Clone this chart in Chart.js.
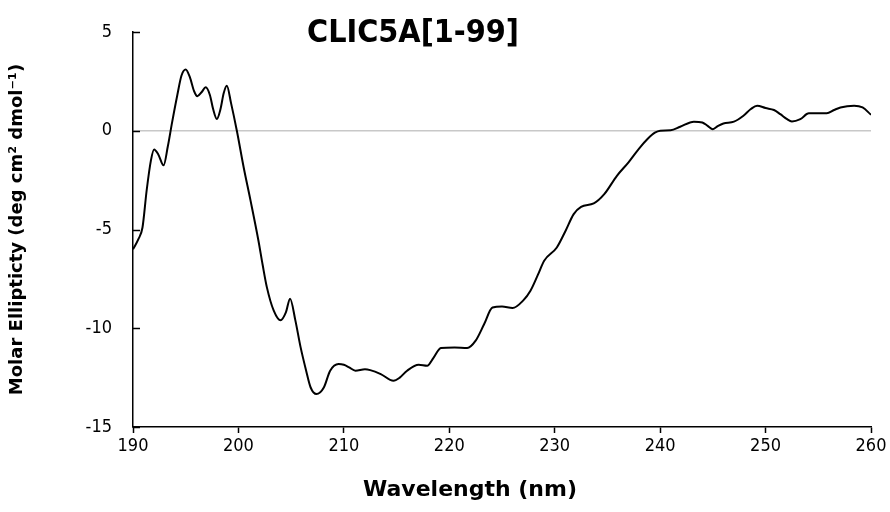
<!DOCTYPE html>
<html>
<head>
<meta charset="utf-8">
<script src="https://cdn.jsdelivr.net/npm/chart.js@4/dist/chart.umd.min.js"></script>
<style>
  html, body { margin: 0; padding: 0; background: #fff; }
  canvas { display: block; }
</style>
</head>
<body>
<canvas id="c" width="890" height="512"></canvas>
<script>
const chartTitle = 'CLIC5A[1-99]';
const xAxisTitle = 'Wavelength (nm)';
const yAxisTitle = 'Molar Ellipticty (deg cm² dmol⁻¹)';
const xTicks = [190, 200, 210, 220, 230, 240, 250, 260];
const yTicks = [-15, -10, -5, 0, 5];

const wavelengths = [
  190.0, 190.5, 190.9, 191.3, 191.7, 192.0, 192.4, 192.9, 193.3, 193.7,
  194.2, 194.6, 195.0, 195.4, 195.8, 196.1, 196.5, 196.9, 197.3, 197.6,
  197.95, 198.3, 198.6, 198.9, 199.3, 199.85, 200.5, 201.15, 201.9, 202.3,
  202.7, 203.35, 204.0, 204.5, 204.9, 205.4, 205.9, 206.4, 206.85, 207.4,
  208.1, 208.7, 209.5, 210.0, 210.5, 211.1, 212.0, 212.5, 213.5, 214.7,
  215.3, 216.0, 217.1, 217.9, 218.5, 219.2, 220.5, 221.7, 222.5, 223.3,
  224.1, 225.0, 226.0, 227.0, 227.7, 228.4, 229.0, 230.2, 231.0, 231.8,
  232.5, 233.7, 234.7, 235.9, 237.0, 238.0, 238.8, 239.5, 240.0, 241.0,
  241.9, 243.2, 244.0, 244.5, 245.0, 245.5, 246.0, 247.0, 247.9, 248.6,
  249.2, 250.0, 250.8, 251.4, 252.0, 252.5, 253.3, 254.1, 255.0, 255.8,
  256.5, 257.1, 258.4, 259.2, 260.0
];
const ellipticity = [
  -6.0, -5.5, -4.9, -3.0, -1.5, -0.95, -1.2, -1.75, -0.8, 0.4,
  1.8, 2.8, 3.1, 2.7, 2.0, 1.75, 1.95, 2.2, 1.8, 1.1,
  0.6, 1.1, 1.9, 2.28, 1.4, 0.0, -1.86, -3.54, -5.57, -6.8,
  -7.93, -9.11, -9.6, -9.2, -8.5, -9.6, -10.97, -12.1, -13.0, -13.33,
  -13.0, -12.15, -11.81, -11.85, -11.98, -12.15, -12.08, -12.12, -12.32, -12.66,
  -12.5, -12.15, -11.85, -11.9, -11.5, -11.0, -10.97, -11.0, -10.63, -9.8,
  -8.95, -8.9, -8.98, -8.6, -8.1, -7.3, -6.58, -5.91, -5.1, -4.22,
  -3.85, -3.68, -3.21, -2.28, -1.6, -0.9, -0.42, -0.1, 0.0, 0.02,
  0.2, 0.46, 0.42, 0.25, 0.08, 0.25, 0.37, 0.46, 0.76, 1.1,
  1.27, 1.15, 1.05, 0.84, 0.6, 0.47, 0.59, 0.88, 0.88, 0.88,
  1.05, 1.18, 1.27, 1.18, 0.81
];

const points = wavelengths.map((w, i) => ({ x: w, y: ellipticity[i] }));

const innerTicksAndTitles = {
  id: 'innerTicksAndTitles',
  afterDraw(chart) {
    const ctx = chart.ctx;
    const ys = chart.scales.y;
    const left = chart.chartArea.left;
    ctx.save();
    ctx.strokeStyle = '#000';
    ctx.lineWidth = 1.5;
    yTicks.forEach(v => {
      const py = Math.round(ys.getPixelForValue(v)) + 0.5;
      ctx.beginPath();
      ctx.moveTo(left, py);
      ctx.lineTo(left + 7, py);
      ctx.stroke();
    });
    ctx.fillStyle = '#000';
    ctx.textAlign = 'center';
    ctx.textBaseline = 'middle';
    ctx.font = 'bold 32px "DejaVu Sans Condensed", "DejaVu Sans"';
    ctx.fillText(chartTitle, 413, 34);
    ctx.font = 'bold 22px "DejaVu Sans"';
    ctx.fillText(xAxisTitle, 470, 490);
    ctx.restore();
  }
};

new Chart(document.getElementById('c'), {
  type: 'line',
  data: {
    datasets: [{
      data: points,
      borderColor: '#000',
      borderWidth: 2,
      pointRadius: 0,
      fill: false,
      tension: 0.4,
      cubicInterpolationMode: 'monotone'
    }]
  },
  options: {
    responsive: false,
    animation: false,
    layout: { padding: { left: 0, right: 19, top: 32, bottom: 0 } },
    plugins: { legend: { display: false }, tooltip: { enabled: false }, title: { display: false } },
    scales: {
      x: {
        type: 'linear',
        min: 190, max: 260,
        afterBuildTicks(scale) { scale.ticks = xTicks.map(v => ({ value: v })); },
        afterFit(scale) { scale.height = 85; },
        border: { display: true, color: '#000', width: 1.5 },
        grid: { drawOnChartArea: false, drawTicks: true, tickLength: 6, tickColor: '#000', tickWidth: 1.5 },
        ticks: { color: '#000', padding: 3, font: { family: '"DejaVu Sans Condensed", "DejaVu Sans"', size: 18 } },
        title: { display: false }
      },
      y: {
        type: 'linear',
        min: -15, max: 5,
        afterBuildTicks(scale) { scale.ticks = yTicks.map(v => ({ value: v })); },
        afterFit(scale) { scale.width = 133; },
        border: { display: true, color: '#000', width: 1.5 },
        grid: {
          drawOnChartArea: true, drawTicks: false,
          color: c => (c.tick && c.tick.value === 0) ? '#c8c8c8' : 'rgba(0,0,0,0)',
          lineWidth: 1.5
        },
        ticks: { color: '#000', padding: 21, font: { family: '"DejaVu Sans Condensed", "DejaVu Sans"', size: 18 } },
        title: { display: true, text: yAxisTitle, color: '#000', padding: { top: 7, bottom: 4 },
                 font: { family: '"DejaVu Sans"', size: 18, weight: 'bold' } }
      }
    }
  },
  plugins: [innerTicksAndTitles]
});
</script>
</body>
</html>
